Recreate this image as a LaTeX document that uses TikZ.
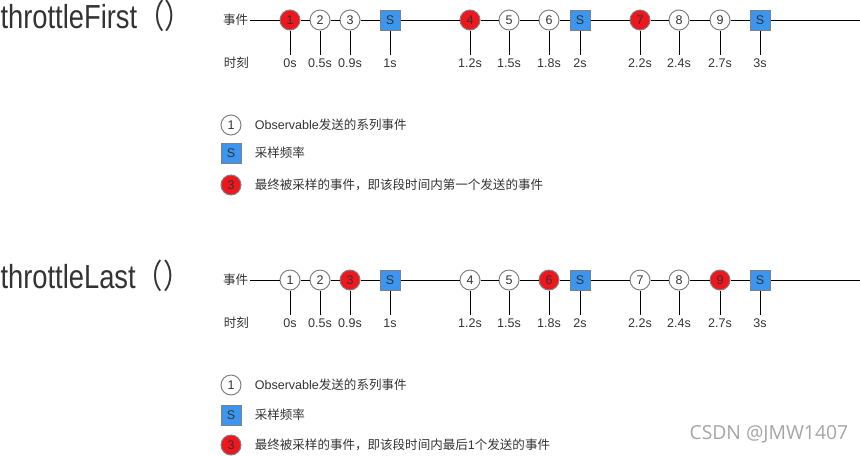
\documentclass[tikz,border=0pt]{standalone}
\usepackage{fontspec}
\setmainfont{Liberation Sans}
\newfontfamily\cjk{Noto Sans CJK SC}
\newfontfamily\titlefont[FakeStretch=0.82]{Liberation Sans}
\newfontfamily\titlecjk[FakeStretch=0.82]{Noto Sans CJK SC}
\newfontfamily\markfont{Open Sans}

\definecolor{ink}{RGB}{51,51,51}
\definecolor{rim}{RGB}{128,128,128}
\definecolor{hitred}{RGB}{240,22,30}
\definecolor{smpblue}{RGB}{60,150,240}
\definecolor{markgray}{RGB}{165,165,165}

\begin{document}
\begin{tikzpicture}[x=0.75pt,y=-0.75pt,line width=0.75pt,
        font=\fontsize{9.4}{11}\selectfont,text=ink,
        every node/.style={inner sep=1pt},
        ev/.style={draw=rim,fill=white,circle,minimum size=15pt,inner sep=0pt},
        hit/.style={ev,fill=hitred},
        smp/.style={draw=rim,fill=smpblue,rectangle,minimum size=15pt,inner sep=0pt},
        tm/.style={inner sep=2.5pt},
        ttl/.style={anchor=base west,inner sep=0pt,font=\titlefont\fontsize{25}{30}\selectfont}]

    \useasboundingbox (0,0) rectangle (860,455);

    % throttleFirst
    \node[ttl] (ttlA) at (0,28) {throttleFirst{\titlecjk （）}};
    \node[anchor=east] (evA) at (250,20) {\cjk 事件};
    \node[anchor=west] (tmA) at (222,63) {\cjk 时刻};
    \coordinate (endA) at (860,20);
    \foreach \x/\n/\s/\t [count=\i] in {290/1/hit/0s, 320/2/ev/0.5s, 350/3/ev/0.9s, 390/S/smp/1s,
            470/4/hit/1.2s, 509/5/ev/1.5s, 549/6/ev/1.8s, 580/S/smp/2s,
            640/7/hit/2.2s, 679/8/ev/2.4s, 720/9/ev/2.7s, 760/S/smp/3s}
    {
        \node[\s] (a\i) at (\x,20) {\n};
        \node[tm] (ta\i) at (\x,63) {\t};
        \draw (a\i) -- (ta\i);
    }
    \draw (evA) -- (a1);
    \foreach \i [remember=\i as \j (initially 1)] in {2,...,12}
        \draw (a\j) -- (a\i);
    \draw (a12) -- (endA);

    \node[ev] (ka1) at (231,125) {1};
    \node[anchor=west] (kt1) at (253,125) {Observable{\cjk 发送的系列事件}};
    \node[smp] (ka2) at (231,153) {S};
    \node[anchor=west] (kt2) at (253,153) {\cjk 采样频率};
    \node[hit] (ka3) at (231,185) {3};
    \node[anchor=west] (kt3) at (253,185) {\cjk 最终被采样的事件，即该段时间内第一个发送的事件};

    % throttleLast
    \node[ttl] (ttlB) at (0,288) {throttleLast{\titlecjk （）}};
    \node[anchor=east] (evB) at (250,280) {\cjk 事件};
    \node[anchor=west] (tmB) at (222,323) {\cjk 时刻};
    \coordinate (endB) at (860,280);
    \foreach \x/\n/\s/\t [count=\i] in {290/1/ev/0s, 320/2/ev/0.5s, 350/3/hit/0.9s, 390/S/smp/1s,
            470/4/ev/1.2s, 509/5/ev/1.5s, 549/6/hit/1.8s, 580/S/smp/2s,
            640/7/ev/2.2s, 679/8/ev/2.4s, 720/9/hit/2.7s, 760/S/smp/3s}
    {
        \node[\s] (b\i) at (\x,280) {\n};
        \node[tm] (tb\i) at (\x,323) {\t};
        \draw (b\i) -- (tb\i);
    }
    \draw (evB) -- (b1);
    \foreach \i [remember=\i as \j (initially 1)] in {2,...,12}
        \draw (b\j) -- (b\i);
    \draw (b12) -- (endB);

    \node[ev] (kb1) at (231,385) {1};
    \node[anchor=west] (lb1) at (253,385) {Observable{\cjk 发送的系列事件}};
    \node[smp] (kb2) at (231,415) {S};
    \node[anchor=west] (lb2) at (253,415) {\cjk 采样频率};
    \node[hit] (kb3) at (231,445) {3};
    \node[anchor=west] (lb3) at (253,445) {{\cjk 最终被采样的事件，即该段时间内最后}1{\cjk 个发送的事件}};

    \node[anchor=east,text=markgray,font=\markfont\fontsize{14.5}{17}\selectfont] (wm) at (850,434) {CSDN @JMW1407};
\end{tikzpicture}
\end{document}
